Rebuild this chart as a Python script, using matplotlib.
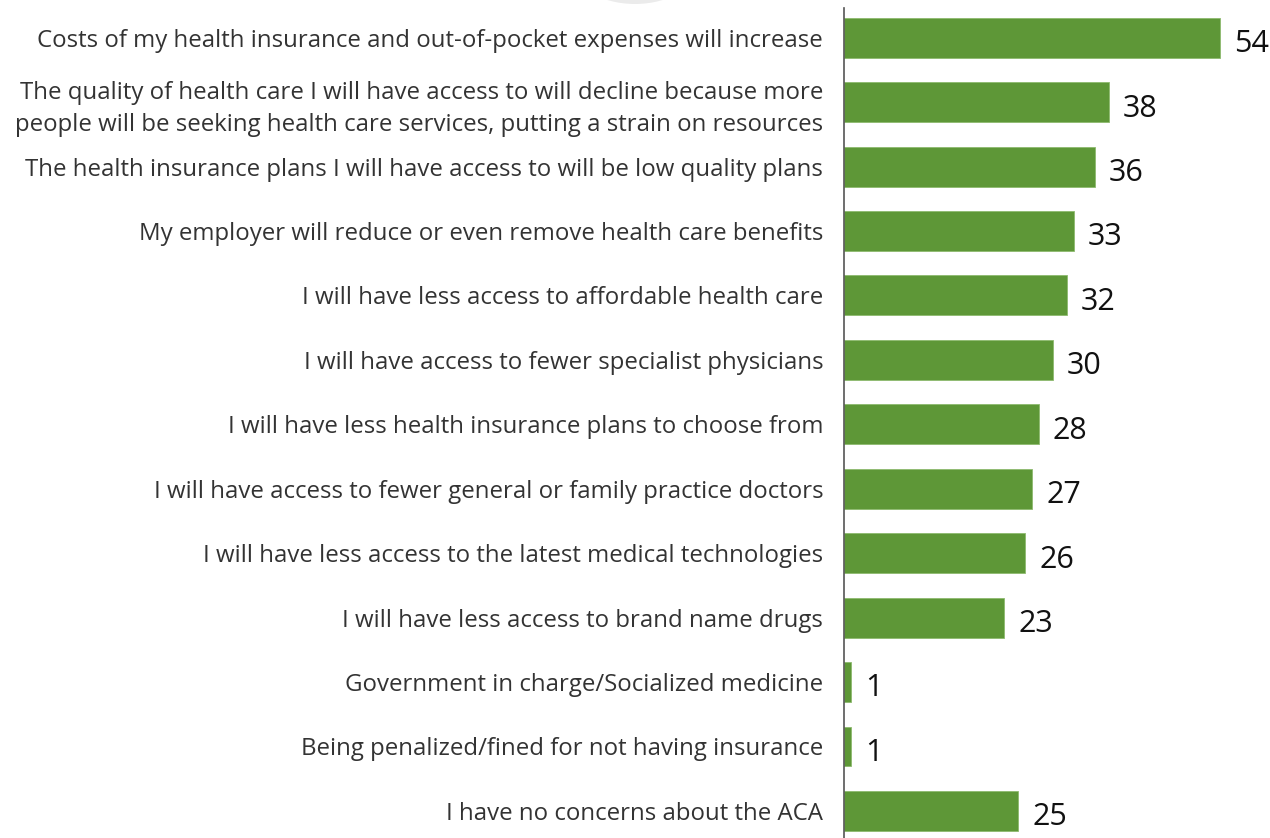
import matplotlib
matplotlib.use("Agg")
import matplotlib.pyplot as plt
from matplotlib.patches import Ellipse

categories = [
    "Costs of my health insurance and out-of-pocket expenses will increase",
    "The quality of health care I will have access to will decline because more\npeople will be seeking health care services, putting a strain on resources",
    "The health insurance plans I will have access to will be low quality plans",
    "My employer will reduce or even remove health care benefits",
    "I will have less access to affordable health care",
    "I will have access to fewer specialist physicians",
    "I will have less health insurance plans to choose from",
    "I will have access to fewer general or family practice doctors",
    "I will have less access to the latest medical technologies",
    "I will have less access to brand name drugs",
    "Government in charge/Socialized medicine",
    "Being penalized/fined for not having insurance",
    "I have no concerns about the ACA",
]
values = [54, 38, 36, 33, 32, 30, 28, 27, 26, 23, 1, 1, 25]

W, H = 1270, 838
fig = plt.figure(figsize=(W / 100, H / 100), dpi=100)
ax = fig.add_axes([844 / W, 0, (1262 - 844) / W, 830 / H])

green = "#5E9737"
ypos = list(range(len(values)))
ax.barh(ypos, values, height=0.62, color=green, edgecolor="#8DBA6E", linewidth=0.6)
ax.set_xlim(0, 60)
ax.set_ylim(12.42, -0.46)

for y, v in zip(ypos, values):
    ax.text(v + 2.0, y + 0.1, str(v), va="center", ha="left",
            fontsize=22, family="Open Sans", color="#111111")

ax.set_yticks(ypos)
ax.set_yticklabels(categories, fontsize=17.3, family="Open Sans", color="#333333",
                   linespacing=1.45)
ax.tick_params(axis="y", length=0, pad=15)
ax.set_xticks([])
for s in ["top", "right", "bottom"]:
    ax.spines[s].set_visible(False)
ax.spines["left"].set_color("#555555")
ax.spines["left"].set_linewidth(1.2)

# faint shadow of a shape cut off at the top
fig.patches.append(Ellipse((635 / W, 1 + 38 / H), 130 / W, 84 / H, transform=fig.transFigure,
                           facecolor="#e3e3e3", edgecolor="none", alpha=0.7))

fig.savefig("out.png", dpi=100)
